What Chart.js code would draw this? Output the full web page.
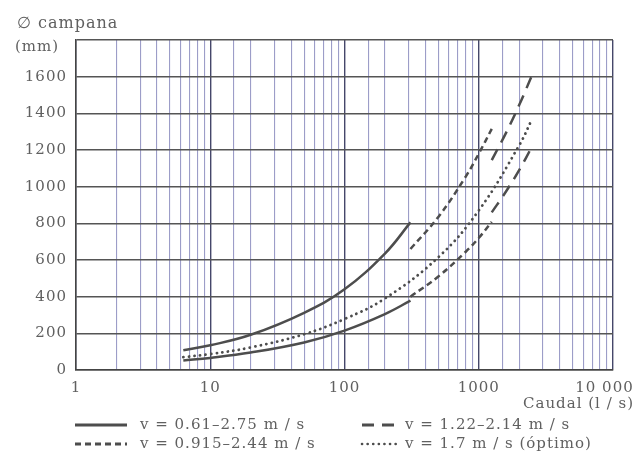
<!DOCTYPE html>
<html>
<head>
<meta charset="utf-8">
<script src="https://cdn.jsdelivr.net/npm/chart.js@4.4.1/dist/chart.umd.min.js"></script>
<style>
  html, body { margin: 0; padding: 0; background: #fff; }
  #marco { width: 635px; height: 463px; }
</style>
</head>
<body>
<div id="marco"><canvas id="grafico-campana"></canvas></div>
<script>
// Diámetro de campana según caudal, para distintos rangos de velocidad
const caudalBajo = [6.3, 10, 20, 50, 100, 200, 310];
const diamV061 = [108, 135, 192, 312, 440, 635, 805];   // v = 0.61
const diamV275 = [52, 66, 95, 150, 215, 305, 378];      // v = 2.75

const caudalOptimo = [6.3, 10, 20, 50, 100, 200, 500, 1000, 2000, 2500];
const diamOptimo = [70, 87, 123, 195, 278, 390, 615, 870, 1225, 1370];

const caudalMedio = [310, 500, 800, 1000, 1250];
const diamV0915 = [660, 835, 1055, 1180, 1315];
const diamV244 = [400, 510, 645, 720, 808];

const caudalAlto = [1250, 1600, 2000, 2500];
const diamV122 = [1145, 1295, 1445, 1610];
const diamV214 = [860, 975, 1090, 1220];

const ticksCaudal = [1, 10, 100, 1000, 10000];
// la última etiqueta lleva espacios al final para que no se salga del lienzo
const etiquetasCaudal = ['1', '10', '100', '1000', '10 000\u2002\u2002'];

const TRAZO_CONTINUO = [];
const TRAZO_LARGO = [12, 8];
const TRAZO_CORTO = [6, 4];
const TRAZO_PUNTOS = [0.1, 5.5];

const leyenda = [
    { texto: 'v = 0.61–2.75 m / s', dash: TRAZO_CONTINUO, col: 0, fila: 0 },
    { texto: 'v = 1.22–2.14 m / s', dash: TRAZO_LARGO, col: 1, fila: 0 },
    { texto: 'v = 0.915–2.44 m / s', dash: TRAZO_CORTO, col: 0, fila: 1 },
    { texto: 'v = 1.7 m / s (óptimo)', dash: TRAZO_PUNTOS, col: 1, fila: 1 }
];

const FUENTE = "'DejaVu Serif', 'Liberation Serif', serif";
const GRIS = '#4d4d4d';
const TEXTO = '#606060';

const puntos = (xs, ys) => xs.map((x, i) => ({ x: x, y: ys[i] }));
const esPunteado = dash => dash.length > 0 && dash[0] < 1;

const serie = (xs, ys, dash) => ({
    data: puntos(xs, ys),
    borderColor: GRIS,
    borderWidth: esPunteado(dash) ? 2.8 : 2.5,
    borderDash: dash,
    borderCapStyle: esPunteado(dash) ? 'round' : 'butt',
    pointRadius: 0,
    tension: 0.4,
    fill: false
});

// Texto algo espaciado en todo el gráfico
const espaciado = {
    id: 'espaciado',
    beforeDraw(chart) { chart.ctx.letterSpacing = '1px'; }
};

// Textos fuera del área: título del eje, unidad de caudal y leyenda
const textosExtra = {
    id: 'textosExtra',
    afterDraw(chart) {
        const ctx = chart.ctx;
        ctx.save();
        ctx.letterSpacing = '1px';
        ctx.fillStyle = TEXTO;
        ctx.textBaseline = 'middle';
        ctx.font = '16px ' + FUENTE;
        ctx.textAlign = 'left';
        ctx.fillText('∅ campana', 17, 24);
        ctx.font = '15px ' + FUENTE;
        ctx.fillText('(mm)', 15, 47);
        ctx.textAlign = 'right';
        ctx.fillText('Caudal (l / s)', 634, 404);

        ctx.textAlign = 'left';
        leyenda.forEach(item => {
            const x0 = item.col === 0 ? 75 : 362;
            const largo = item.col === 0 ? 52 : 34;
            const y = item.fila === 0 ? 425 : 444;
            ctx.strokeStyle = GRIS;
            ctx.lineWidth = esPunteado(item.dash) ? 2.6 : 2.8;
            ctx.setLineDash(item.dash);
            ctx.lineCap = esPunteado(item.dash) ? 'round' : 'butt';
            ctx.beginPath();
            ctx.moveTo(x0, y);
            ctx.lineTo(x0 + largo, y);
            ctx.stroke();
            ctx.setLineDash([]);
            ctx.fillText(item.texto, item.col === 0 ? 140 : 405, y);
        });
        ctx.restore();
    }
};

new Chart(document.getElementById('grafico-campana'), {
    type: 'line',
    data: {
        datasets: [
            serie(caudalBajo, diamV061, TRAZO_CONTINUO),
            serie(caudalBajo, diamV275, TRAZO_CONTINUO),
            serie(caudalOptimo, diamOptimo, TRAZO_PUNTOS),
            serie(caudalMedio, diamV0915, TRAZO_CORTO),
            serie(caudalMedio, diamV244, TRAZO_CORTO),
            serie(caudalAlto, diamV122, TRAZO_LARGO),
            serie(caudalAlto, diamV214, TRAZO_LARGO)
        ]
    },
    options: {
        responsive: true,
        maintainAspectRatio: false,
        animation: false,
        layout: { padding: { top: 40, right: 22, bottom: 50, left: 0 } },
        plugins: {
            legend: { display: false },
            tooltip: { enabled: false }
        },
        scales: {
            x: {
                type: 'logarithmic',
                min: 1,
                max: 10000,
                afterFit: s => {
                    s.height = 43;
                    s.paddingLeft = 0;
                    s.paddingRight = 0;
                },
                border: { display: true, color: '#444', width: 1.5 },
                grid: {
                    drawTicks: false,
                    color: c => ticksCaudal.includes(c.tick.value) ? '#45476a' : '#9c9dc8',
                    lineWidth: c => ticksCaudal.includes(c.tick.value) ? 1.4 : 1.1
                },
                ticks: {
                    autoSkip: false,
                    maxRotation: 0,
                    padding: 9,
                    color: TEXTO,
                    font: { family: FUENTE, size: 15 },
                    callback: v => {
                        const i = ticksCaudal.indexOf(v);
                        return i >= 0 ? etiquetasCaudal[i] : '';
                    }
                }
            },
            y: {
                min: 0,
                max: 1800,
                afterFit: s => { s.width = 76; },
                border: { display: true, color: '#444', width: 1.5 },
                grid: { drawTicks: false, color: '#555', lineWidth: 1.4 },
                ticks: {
                    stepSize: 200,
                    padding: 9,
                    color: TEXTO,
                    font: { family: FUENTE, size: 15 },
                    callback: v => v === 1800 ? '' : String(v)
                }
            }
        }
    },
    plugins: [espaciado, textosExtra]
});
</script>
</body>
</html>
